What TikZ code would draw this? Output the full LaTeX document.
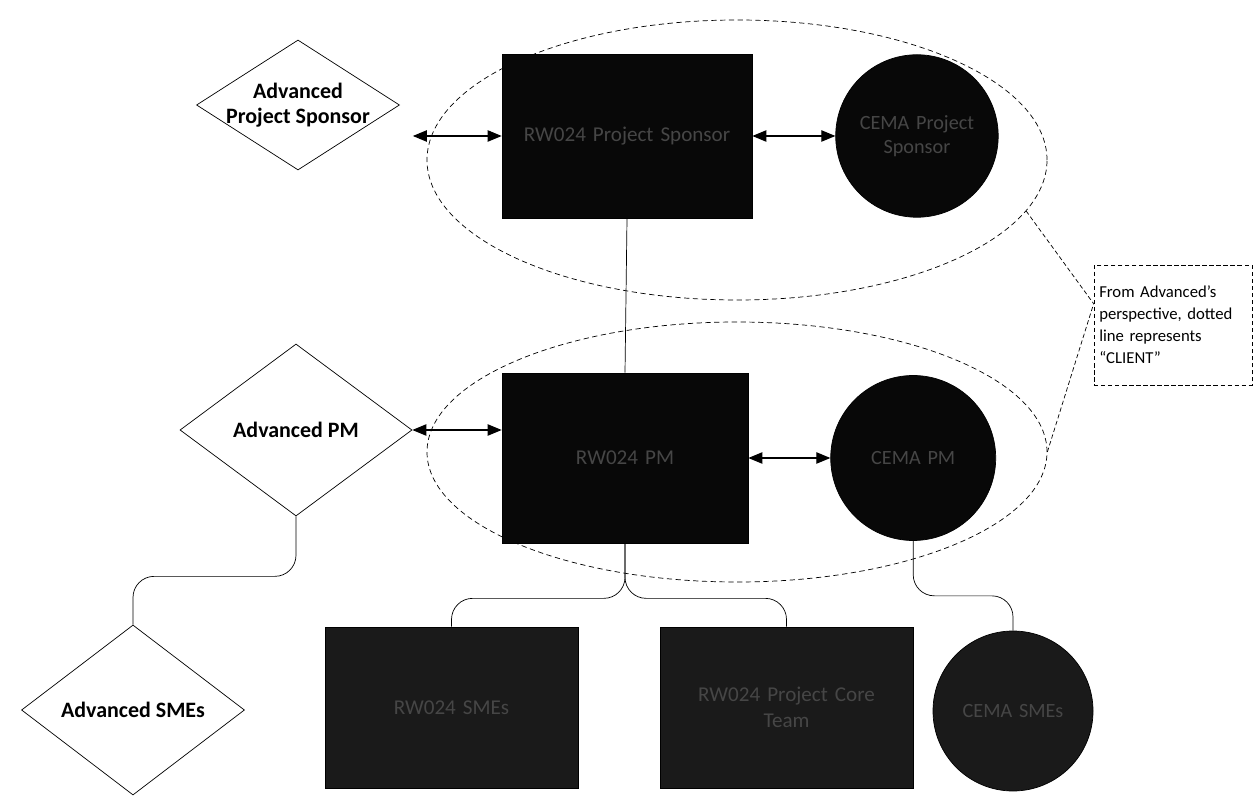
\documentclass[tikz,border=0pt]{standalone}
\usepackage{fontspec}
\setmainfont{Carlito}
\usetikzlibrary{positioning, shapes.geometric, arrows.meta}
\definecolor{negrocaja}{RGB}{8,8,8}
\definecolor{grisbajo}{RGB}{26,26,26}
\definecolor{textogris}{RGB}{70,70,70}

\begin{document}
\begin{tikzpicture}[
			caja/.style = {
				rectangle,
				draw=black,
				fill=negrocaja,
				text=textogris,
				align=center,
				font=\fontsize{12}{15}\selectfont,
				text width=4.4cm,
				minimum width=5cm,
				minimum height=3.3cm
			},
			circulo/.style = {
				circle,
				draw=black,
				fill=negrocaja,
				text=textogris,
				align=center,
				font=\fontsize{11.5}{14}\selectfont,
				text width=2.7cm,
				minimum size=3.25cm,
				inner sep=1pt
			},
			rombo/.style = {
				diamond,
				draw=black,
				fill=white,
				align=center,
				font=\bfseries\fontsize{12.5}{14.5}\selectfont,
				inner sep=-2pt
			},
			grupo/.style = {ellipse, draw=black, dash pattern=on 3pt off 2pt},
			doble/.style = {{Triangle[length=8pt,width=6.5pt]}-{Triangle[length=8pt,width=6.5pt]}, semithick},
			linea/.style = {draw=black, rounded corners=12pt}
			]
			
			\useasboundingbox (0,0) rectangle (25.12,15.96);
			
			\node[grupo, minimum width=12.4cm, minimum height=5.6cm] (cliente1) at (14.74,12.76) {};
			\node[grupo, minimum width=12.4cm, minimum height=5.2cm] (cliente2) at (14.74,6.92) {};
			
			\node[caja, minimum width=5cm, minimum height=3.28cm] (rwsp) at (12.54,13.24) {RW024 Project Sponsor};
			\node[circulo, right=1.66cm of rwsp] (cemasp) {CEMA Project\\Sponsor};
			\node[rombo, aspect=1.56, minimum width=4.06cm, minimum height=2.6cm] (advsp) at (5.96,13.86) {Advanced\\Project Sponsor};
			
			\node[caja, minimum width=4.92cm, minimum height=3.4cm] (rwpm) at (12.5,6.8) {RW024 PM};
			\node[circulo, minimum size=3.3cm, right=1.64cm of rwpm] (cemapm) {CEMA PM};
			\node[rombo, aspect=1.35, minimum width=4.64cm, minimum height=3.44cm] (advpm) at (5.92,7.36) {Advanced PM};
			
			\node[caja, fill=grisbajo, minimum width=5.06cm, minimum height=3.22cm] (rwsme) at (9.03,1.81) {RW024 SMEs};
			\node[caja, fill=grisbajo, minimum width=5.06cm, minimum height=3.22cm] (rwcore) at (15.73,1.81) {RW024 Project Core\\Team};
			\node[circulo, fill=grisbajo, minimum size=3.2cm] (cemasme) at (20.26,1.74) {CEMA SMEs};
			\node[rombo, aspect=1.31, minimum width=4.46cm, minimum height=3.4cm] (advsme) at (2.66,1.76) {Advanced SMEs};
			
			\node[draw, dash pattern=on 2.5pt off 1.5pt, align=left, font=\fontsize{9.5}{12.5}\selectfont, text width=2.95cm, minimum height=2.4cm, inner sep=3pt] (nota) at (23.46,9.46) {From Advanced’s\\perspective, dotted\\line represents\\“CLIENT”};
			
			\draw[doble] ([xshift=0.26cm]advsp.east |- rwsp.west) -- (rwsp.west);
			\draw[doble] (rwsp.east) -- (cemasp.west);
			\draw[doble] (advpm.east) -- (rwpm.west |- advpm.east);
			\draw[doble] (rwpm.east) -- (cemapm.west);
			
			\draw (rwsp.south) -- (rwpm.north);
			\draw[linea] (rwpm.south) -- ++(0,-1.1) -| (rwsme.north);
			\draw[linea] (rwpm.south) -- ++(0,-1.1) -| (rwcore.north);
			\draw[linea] (cemapm.south) -- ++(0,-1.1) -| (cemasme.north);
			\draw[linea] (advpm.south) -- ++(0,-1.2) -| (advsme.north);
			
			\draw[dash pattern=on 2.5pt off 1.5pt] (cliente1.-10) -- (nota.165);
			\draw[dash pattern=on 2.5pt off 1.5pt] (cliente2.east) -- (nota.165);
			
		\end{tikzpicture}
\end{document}
